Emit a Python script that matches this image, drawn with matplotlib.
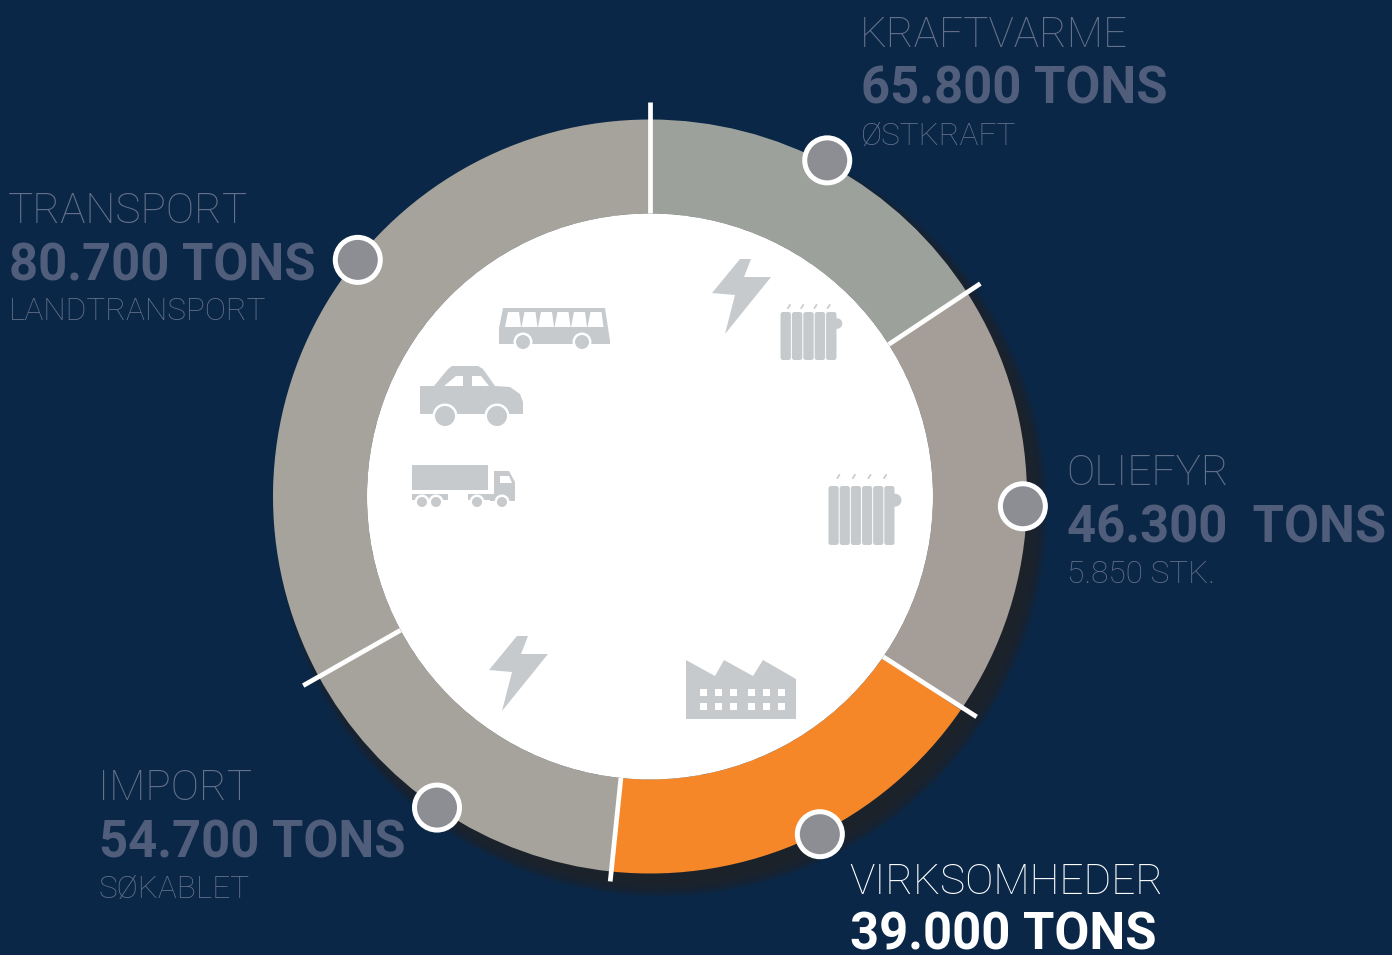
# -*- coding: utf-8 -*-
import numpy as np
import matplotlib
matplotlib.use("Agg")
import matplotlib.pyplot as plt
from matplotlib.patches import Circle, Polygon, Rectangle, FancyBboxPatch

names = ["KRAFTVARME", "OLIEFYR", "VIRKSOMHEDER", "IMPORT", "TRANSPORT"]
tons = ["65.800 TONS", "46.300  TONS", "39.000 TONS", "54.700 TONS", "80.700 TONS"]
subs = ["ØSTKRAFT", "5.850 STK.", "", "SØKABLET", "LANDTRANSPORT"]
# segment spans in degrees, clockwise from the top. the ring is illustrative,
# these are the drawn spans and are not proportional to the tonnage
spans = [57.5, 67.0, 61.4, 55.9, 118.2]
divider_end = [0, 57.2, 124.0, 185.9, 241.4]
divider_r = [394, 393, 394, 387, 395]
dot_angles = [27.8, 91.5, 153.3, 214.4, 309.0]
dot_r = [380, 373, 378, 377, 376]
colors = ["#9ca29b", "#a59e98", "#f58729", "#a5a39b", "#a5a39b"]

# left x, name baseline, tons baseline, sub baseline
text_pos = [(862, 47, 104, 145), (1068, 485, 542, 583), (851, 894, 949, 990),
            (100, 800, 857, 898), (10, 223, 280, 320)]

BG = "#0a2747"
ICON = "#c6cacd"
NAME = "#65718a"
BIG = "#505e7b"
W, H = 1392, 955
CX, CY = 650, 496.5
R_OUT, R_IN = 377, 283

fig = plt.figure(figsize=(W / 100, H / 100), dpi=100, facecolor=BG)
ax = fig.add_axes([0, 0, 1, 1])
ax.set_facecolor(BG)

# soft shadow under the ring, stacked circles fake the blur
for r in np.linspace(R_OUT + 9, R_OUT - 8, 14):
    ax.add_patch(Circle((CX + 11, CY + 14), r, fc="#20222a", ec="none", alpha=0.18, zorder=1))

ax.pie(spans, colors=colors, center=(CX, CY), radius=R_OUT, startangle=-90,
       counterclock=True, frame=True, wedgeprops=dict(width=R_OUT - R_IN, lw=0, zorder=2))
ax.add_patch(Circle((CX, CY), R_IN, fc="white", ec="none", zorder=3))
ax.set_xlim(0, W)
ax.set_ylim(H, 0)
ax.set_aspect("equal")
ax.axis("off")


def polar(deg, r):
    a = np.radians(deg)
    return CX + r * np.sin(a), CY - r * np.cos(a)


# white dividers between the segments
edges = np.concatenate([[0], np.cumsum(spans)[:-1]])
for e, e2, r in zip(edges, divider_end, divider_r):
    p0 = polar(e, R_IN)
    p1 = polar(e2, r)
    ax.plot([p0[0], p1[0]], [p0[1], p1[1]], color="white", lw=3.4, solid_capstyle="butt", zorder=4)

for d, r in zip(dot_angles, dot_r):
    ax.add_patch(Circle(polar(d, r), 22.5, fc="#8c8e93", ec="white", lw=3.6, zorder=5))


def fill(pts, ox=0, oy=0, s=1.0, c=ICON, z=6):
    pts = [(ox + x * s, oy + y * s) for x, y in pts]
    ax.add_patch(Polygon(pts, closed=True, fc=c, ec="none", zorder=z))


def rect(x, y, w, h, c=ICON, z=6):
    ax.add_patch(Rectangle((x, y), w, h, fc=c, ec="none", zorder=z))


def wheel(x, y, r):
    ax.add_patch(Circle((x, y), r + 2.5, fc="white", ec="none", zorder=7))
    ax.add_patch(Circle((x, y), r, fc=ICON, ec="none", zorder=8))


def bolt(ox, oy):
    fill([(28, 0), (39, 0), (32, 18), (59, 18), (13, 75), (23, 36), (0, 34)], ox, oy)


def radiator(x, y, w, h, fins, tick_y):
    fw = w / fins
    for i in range(fins):
        ax.add_patch(FancyBboxPatch((x + i * fw + 0.5, y), fw - 1.0, h,
                                    boxstyle="round,pad=0,rounding_size=2.5", fc=ICON, ec="none", zorder=6))
    ax.add_patch(Circle((x + w, y + h * 0.24), h * 0.11, fc=ICON, ec="none", zorder=6))
    for i in range(4):
        tx = x + (i + 0.6) * w / 4.3
        ax.plot([tx, tx + 2], [tick_y + 3, tick_y], color=ICON, lw=1.2, zorder=6)


def bus(x, y):
    fill([(4, 0), (106, 0), (111, 33), (111, 36), (0, 36), (0, 20)], x, y)
    for i in range(6):
        wx = x + 6 + i * 16.5
        fill([(3, 4), (14, 4), (16, 19), (0, 19)], wx, y, c="white", z=7)
    wheel(x + 24, y + 34, 7)
    wheel(x + 83, y + 34, 7)


def car(x, y):
    fill([(0, 20), (14, 20), (28, 3), (32, 0), (58, 0), (63, 3), (75, 20), (90, 21), (100, 28),
          (103, 36), (103, 48), (0, 48)], x, y)
    fill([(24, 20), (36, 10), (43, 10), (43, 20)], x, y, c="white", z=7)
    fill([(52, 10), (61, 10), (69, 20), (52, 20)], x, y, c="white", z=7)
    wheel(x + 25, y + 50, 10)
    wheel(x + 77, y + 50, 10)


def truck(x, y):
    rect(x, y, 76, 25)
    fill([(82, 6), (97, 6), (103, 17), (103, 36), (78, 36), (78, 30), (82, 30)], x, y)
    fill([(88, 11), (97, 11), (100, 18), (88, 18)], x, y, c="white", z=7)
    rect(x, y + 29, 36, 6)
    rect(x + 56, y + 29, 30, 6)
    for wx in (10, 24, 65, 90):
        wheel(x + wx, y + 37, 5)


def factory(x, y):
    fill([(0, 0), (29, 16), (38, 0), (67, 16), (77, 0), (110, 19), (110, 59), (0, 59)], x, y)
    for wx in (14, 29, 44, 62, 77, 92):
        for wy in (29, 43):
            rect(x + wx, y + wy, 7, 7, c="white", z=7)


bolt(712, 259)
bolt(489, 636)
radiator(780, 312, 57, 48, 5, 305)
radiator(828, 486, 67, 59, 6, 475)
bus(499, 308)
car(420, 366)
truck(412, 465)
factory(686, 660)

for i in range(len(names)):
    x, y0, y1, y2 = text_pos[i]
    hi = names[i] == "VIRKSOMHEDER"
    ax.text(x - 2, y0, names[i], family="Roboto", weight="light", fontsize=30.5,
            color="white" if hi else NAME, va="baseline", ha="left", zorder=9)
    ax.text(x - 1, y1, tons[i], family="Roboto", weight="bold", fontsize=36.5,
            color="white" if hi else BIG, va="baseline", ha="left", zorder=9)
    if subs[i]:
        ax.text(x - 1, y2, subs[i], family="Roboto", weight="light", fontsize=22.8,
                color=NAME, va="baseline", ha="left", zorder=9)

fig.savefig("out.png", dpi=100, facecolor=BG)
